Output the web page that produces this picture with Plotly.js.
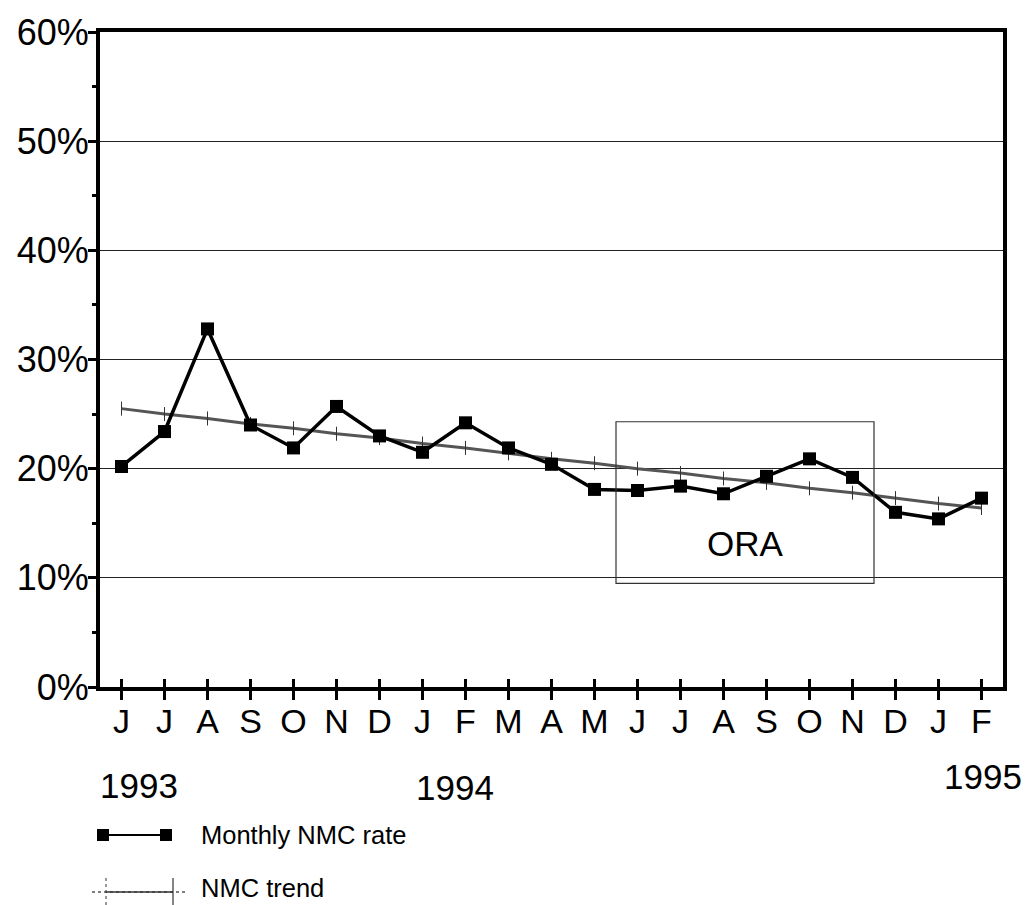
<!DOCTYPE html>
<html>
<head>
<meta charset="utf-8">
<script src="https://cdn.plot.ly/plotly-3.0.1.min.js"></script>
<style>html,body{margin:0;padding:0;background:#fff;}#chart{width:1026px;height:905px;}</style>
</head>
<body>
<div id="chart"></div>
<script>
// ---- data ----
const months = ["J","J","A","S","O","N","D","J","F","M","A","M","J","J","A","S","O","N","D","J","F"];
const monthlyNMC = [20.2, 23.4, 32.8, 24.0, 21.9, 25.7, 23.0, 21.5, 24.2, 21.9, 20.4, 18.1, 18.0, 18.4, 17.7, 19.3, 20.9, 19.2, 16.0, 15.4, 17.3];
const nmcTrend = [25.5, 25.0, 24.6, 24.1, 23.7, 23.2, 22.8, 22.3, 21.9, 21.4, 20.9, 20.5, 20.0, 19.6, 19.1, 18.7, 18.2, 17.8, 17.3, 16.8, 16.4];
const yTickVals = [0, 10, 20, 30, 40, 50, 60];
const yTickText = ["0%", "10%", "20%", "30%", "40%", "50%", "60%"];
const yearLabels = ["1993", "1994", "1995"];
const oraLabel = "ORA";
const legendNames = ["Monthly NMC rate", "NMC trend"];

const idx = months.map((m, i) => i);
const FONT = "Liberation Sans, Arial, Helvetica, sans-serif";

// plot-area pixel geometry helpers (for decorations outside the plot)
const L = 100, R = 23, T = 32, B = 218, W = 1026, H = 905;
const pw = W - L - R, ph = H - T - B;
const px = x => (x - L) / pw;
const py = y => (H - B - y) / ph;

const traces = [
  {
    x: idx, y: nmcTrend, type: "scatter", mode: "lines+markers",
    line: {color: "#555", width: 3},
    marker: {symbol: "line-ns", size: 10, line: {color: "#333", width: 1}},
    hoverinfo: "skip", showlegend: false
  },
  {
    x: idx, y: monthlyNMC, type: "scatter", mode: "lines+markers",
    line: {color: "#000", width: 3.5},
    marker: {symbol: "square", size: 13, color: "#000"},
    showlegend: false
  },
  { // overlay axis to draw the inside half of crossing ticks
    x: [0], y: [0], xaxis: "x2", yaxis: "y", mode: "markers",
    marker: {opacity: 0}, hoverinfo: "skip", showlegend: false
  }
];

const shapes = [
  // ORA box
  {type: "rect", xref: "x", yref: "y", x0: 11.5, x1: 17.5, y0: 9.5, y1: 24.3,
   line: {color: "#333", width: 1.2}, fillcolor: "rgba(0,0,0,0)"},
  // legend sample 1
  {type: "line", xref: "paper", yref: "paper", x0: px(98), x1: px(170), y0: py(835), y1: py(835),
   line: {color: "#000", width: 2}},
  {type: "rect", xref: "paper", yref: "paper", x0: px(97), x1: px(109), y0: py(829), y1: py(841),
   fillcolor: "#000", line: {width: 0}},
  {type: "rect", xref: "paper", yref: "paper", x0: px(160), x1: px(172), y0: py(829), y1: py(841),
   fillcolor: "#000", line: {width: 0}},
  // legend sample 2
  {type: "line", xref: "paper", yref: "paper", x0: px(92), x1: px(188), y0: py(892), y1: py(892),
   line: {color: "#555", width: 1.5, dash: "dot"}},
  {type: "line", xref: "paper", yref: "paper", x0: px(106), x1: px(173), y0: py(892), y1: py(892),
   line: {color: "#333", width: 1.5}},
  {type: "line", xref: "paper", yref: "paper", x0: px(106), x1: px(106), y0: py(878), y1: py(905),
   line: {color: "#333", width: 1, dash: "dot"}},
  {type: "line", xref: "paper", yref: "paper", x0: px(173), x1: px(173), y0: py(878), y1: py(905),
   line: {color: "#333", width: 1.2}}
];

const annotations = [
  {text: oraLabel, xref: "x", yref: "y", x: 14.5, y: 13.1, showarrow: false,
   font: {family: FONT, size: 35, color: "#000"}},
  {text: yearLabels[0], xref: "paper", yref: "paper", x: px(98), y: py(785), xanchor: "left", yanchor: "middle",
   showarrow: false, font: {family: FONT, size: 35, color: "#000"}},
  {text: yearLabels[1], xref: "paper", yref: "paper", x: px(414), y: py(788), xanchor: "left", yanchor: "middle",
   showarrow: false, font: {family: FONT, size: 35, color: "#000"}},
  {text: yearLabels[2], xref: "paper", yref: "paper", x: px(1024), y: py(776), xanchor: "right", yanchor: "middle",
   showarrow: false, font: {family: FONT, size: 35, color: "#000"}},
  {text: legendNames[0], xref: "paper", yref: "paper", x: px(199), y: py(835), xanchor: "left", yanchor: "middle",
   showarrow: false, font: {family: FONT, size: 25.5, color: "#000"}},
  {text: legendNames[1], xref: "paper", yref: "paper", x: px(199), y: py(888), xanchor: "left", yanchor: "middle",
   showarrow: false, font: {family: FONT, size: 25.5, color: "#000"}}
];

const layout = {
  width: W, height: H,
  margin: {l: L, r: R, t: T, b: B, pad: 0},
  paper_bgcolor: "#fff", plot_bgcolor: "#fff",
  font: {family: FONT, color: "#000"},
  xaxis: {
    range: [-0.5, 20.5], tickmode: "array", tickvals: idx, ticktext: months,
    ticks: "outside", ticklen: 9, tickwidth: 2.5, tickcolor: "#000",
    ticklabelstandoff: -8,
    showgrid: false, zeroline: false,
    showline: true, linewidth: 4, linecolor: "#000", mirror: true,
    tickfont: {family: FONT, size: 34, color: "#000"},
    fixedrange: true
  },
  xaxis2: {
    overlaying: "x", range: [-0.5, 20.5], tickmode: "array", tickvals: idx,
    ticks: "inside", ticklen: 8, tickwidth: 2.5, tickcolor: "#000",
    showticklabels: false, showgrid: false, zeroline: false, showline: false,
    side: "bottom", anchor: "y"
  },
  yaxis: {
    range: [0, 60], tickmode: "array", tickvals: yTickVals, ticktext: yTickText,
    ticks: "outside", ticklen: 8, tickwidth: 3, tickcolor: "#000",
    ticklabelstandoff: -8,
    minor: {tickvals: [5,15,25,35,45,55], ticks: "outside", ticklen: 4, tickwidth: 3, tickcolor: "#000", showgrid: false},
    showgrid: true, gridcolor: "#222", gridwidth: 1,
    zeroline: false,
    showline: true, linewidth: 4, linecolor: "#000", mirror: true,
    tickfont: {family: FONT, size: 36, color: "#000"},
    fixedrange: true
  },
  shapes: shapes,
  annotations: annotations,
  showlegend: false
};

Plotly.newPlot("chart", traces, layout, {displayModeBar: false, staticPlot: true});
</script>
</body>
</html>
